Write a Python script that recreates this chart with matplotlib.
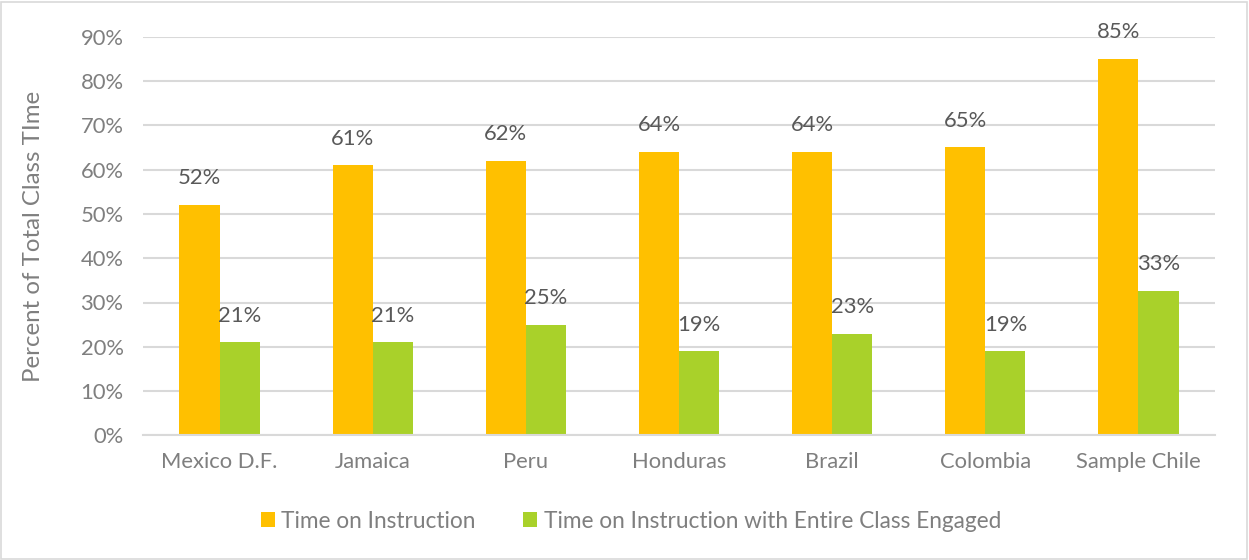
import matplotlib
matplotlib.use("Agg")
from matplotlib import pyplot as plt
from matplotlib.patches import Rectangle
import numpy as np

countries = ["Mexico D.F.", "Jamaica", "Peru", "Honduras", "Brazil", "Colombia", "Sample Chile"]
instruction = [52, 61, 62, 64, 64, 65, 85]
engaged = [21, 21, 25, 19, 23, 19, 32.6]
series_names = ["Time on Instruction", "Time on Instruction with Entire Class Engaged"]
yticks = [0, 10, 20, 30, 40, 50, 60, 70, 80, 90]

ORANGE = "#FFC000"
GREEN = "#A9D12A"
GREY = "#7F7F7F"
GRID = "#D9D9D9"

plt.rcParams["font.family"] = ["Lato", "DejaVu Sans"]
FS = 15.8

fig = plt.figure(figsize=(12.49, 5.6), dpi=100)
ax = fig.add_axes([143 / 1249, 1 - 435.4 / 560, (1215 - 143) / 1249, (435.4 - 36.7) / 560])

x = np.arange(len(countries))
w = 0.262
b1 = ax.bar(x - w / 2, instruction, w, color=ORANGE, label=series_names[0], zorder=3)
b2 = ax.bar(x + w / 2, engaged, w, color=GREEN, label=series_names[1], zorder=3)

for bars, vals in ((b1, instruction), (b2, engaged)):
    for r, v in zip(bars, vals):
        ax.annotate(f"{v:.0f}%", (r.get_x() + r.get_width() / 2, v),
                    xytext=(0, 12), textcoords="offset points",
                    ha="center", va="bottom", fontsize=FS, color="#595959",
                    annotation_clip=False)

ax.set_xlim(-0.5, len(countries) - 0.5)
ax.set_ylim(0, 90)
ax.set_yticks(yticks)
ax.set_yticklabels([f"{t}%" for t in yticks])
ax.set_xticks(x)
ax.set_xticklabels(countries)
ax.tick_params(axis="both", length=0, labelsize=FS, colors=GREY)
ax.tick_params(axis="x", pad=12)
ax.tick_params(axis="y", pad=14)
ax.yaxis.grid(True, color=GRID, linewidth=1.5, zorder=0)
for s in ["top", "right", "left"]:
    ax.spines[s].set_visible(False)
ax.spines["bottom"].set_color(GRID)
ax.spines["bottom"].set_linewidth(1.5)
ax.spines["bottom"].set_zorder(4)
ax.set_ylabel("Percent of Total Class TIme", fontsize=FS + 1.5, color=GREY)
ax.yaxis.set_label_coords((44 - 143) / 1072, 0.5)

leg = fig.legend(handles=[b1, b2], loc="center", bbox_to_anchor=(631 / 1249, 1 - 521 / 560),
                 ncol=2, frameon=False, fontsize=FS + 0.5, handlelength=0.6, handleheight=0.6,
                 handletextpad=0.3, columnspacing=2.1)
for t in leg.get_texts():
    t.set_color(GREY)

fig.patches.append(Rectangle((1 / 1249, 1 / 560), 1246 / 1249, 557 / 560, transform=fig.transFigure,
                             fill=False, edgecolor=GRID, linewidth=1.2))

fig.savefig("out.png", dpi=100)
